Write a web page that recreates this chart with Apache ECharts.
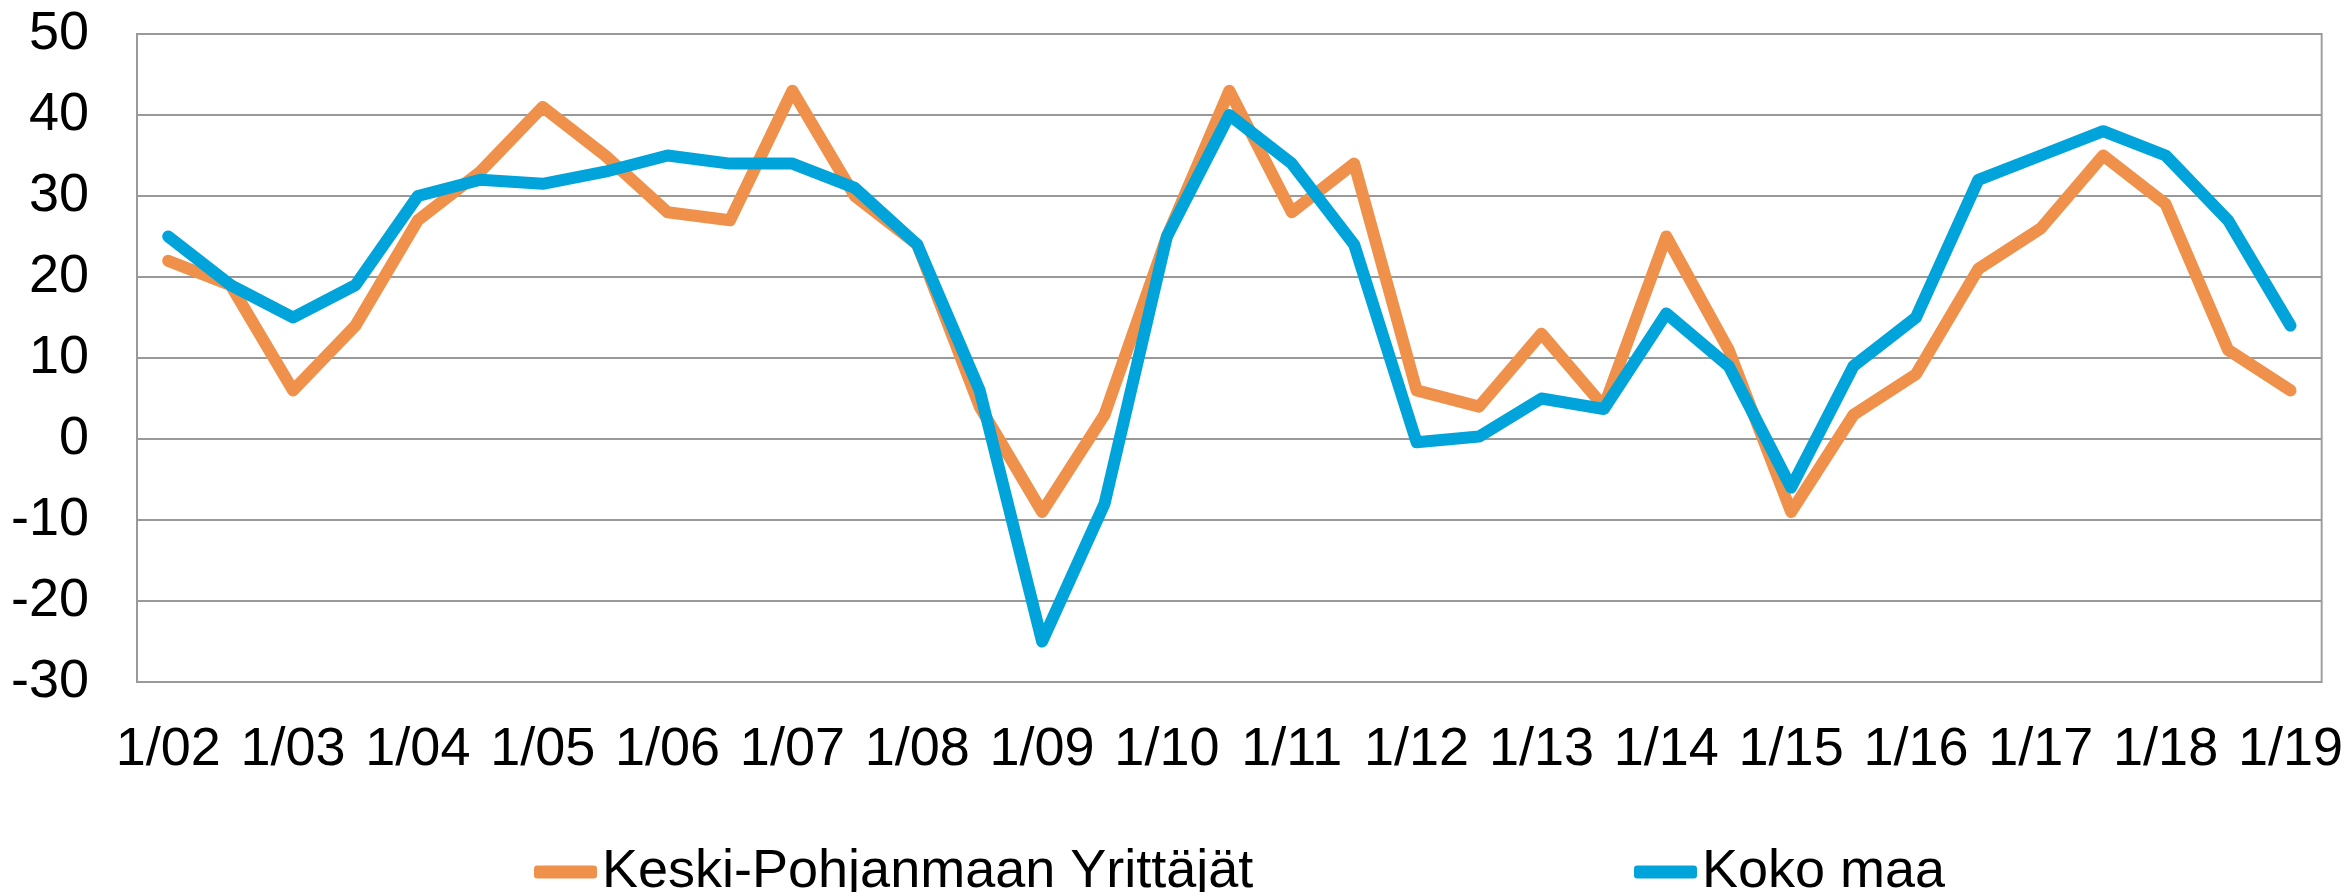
<!DOCTYPE html>
<html>
<head>
<meta charset="utf-8">
<script src="https://cdn.jsdelivr.net/npm/echarts@6/dist/echarts.min.js"></script>
<style>
html,body{margin:0;padding:0;background:#fff;}
#chart{width:2346px;height:892px;}
</style>
</head>
<body>
<div id="chart"></div>
<script>
const categories = ["1/02","7/02","1/03","7/03","1/04","7/04","1/05","7/05","1/06","7/06","1/07","7/07","1/08","7/08","1/09","7/09","1/10","7/10","1/11","7/11","1/12","7/12","1/13","7/13","1/14","7/14","1/15","7/15","1/16","7/16","1/17","7/17","1/18","7/18","1/19"];
const seriesNames = ["Keski-Pohjanmaan Yrittäjät", "Koko maa"];
const keskiPohjanmaa = [22,19,6,14,27,33,41,35,28,27,43,30,24,4,-9,3,25,43,28,34,6,4,13,4,25,11,-9,3,8,21,26,35,29,11,6];
const kokoMaa = [25,19,15,19,30,32,31.5,33,35,34,34,31,24,6,-25,-8,25,40,34,24,-0.4,0.3,5,3.7,15.5,9,-6,9,15,32,35,38,35,27,14];
const yTicks = {min:-30, max:50, interval:10};

const FONT = "'Liberation Sans', Arial, sans-serif";
const FS = 54;
const chart = echarts.init(document.getElementById('chart'), null, {renderer:'canvas'});
chart.setOption({
  animation:false,
  backgroundColor:'#ffffff',
  grid:{left:137, right:23, top:34, bottom:210, show:true, borderColor:'#a0a0a0', borderWidth:2, backgroundColor:'transparent'},
  legend:[
    {left:529, top:835, itemWidth:63, itemHeight:13, icon:'roundRect', data:[seriesNames[0]],
     textStyle:{fontFamily:FONT, fontSize:FS, lineHeight:64, color:'#000'}},
    {left:1629, top:835, itemWidth:63, itemHeight:13, icon:'roundRect', data:[seriesNames[1]],
     textStyle:{fontFamily:FONT, fontSize:FS, lineHeight:64, color:'#000'}}
  ],
  xAxis:{
    type:'category', data:categories, boundaryGap:true,
    axisLine:{show:false}, axisTick:{show:false},
    axisLabel:{interval:1, fontFamily:FONT, fontSize:FS, color:'#000', margin:41},
    splitLine:{show:false}
  },
  yAxis:{
    type:'value', min:yTicks.min, max:yTicks.max, interval:yTicks.interval,
    axisLine:{show:true, lineStyle:{color:'#999', width:2}}, axisTick:{show:false},
    axisLabel:{fontFamily:FONT, fontSize:FS, color:'#000', margin:48},
    splitLine:{show:true, lineStyle:{color:'#999', width:2}}
  },
  series:[
    {name:seriesNames[0], type:'line', data:keskiPohjanmaa, symbol:'none', color:'#F0914B',
     lineStyle:{width:12, color:'#F0914B', cap:'round', join:'round'}},
    {name:seriesNames[1], type:'line', data:kokoMaa, symbol:'none', color:'#00A4DB',
     lineStyle:{width:12, color:'#00A4DB', cap:'round', join:'round'}}
  ]
});
</script>
</body>
</html>
